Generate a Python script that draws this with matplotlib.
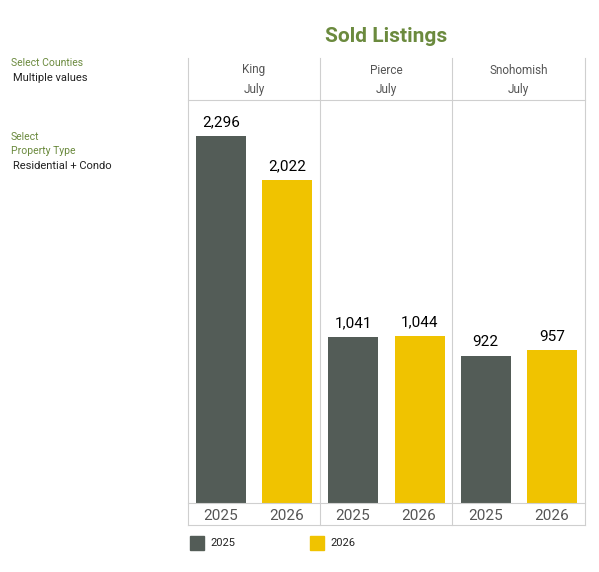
import matplotlib.pyplot as plt
from matplotlib.patches import Rectangle

plt.rcParams['font.family'] = ['Roboto', 'DejaVu Sans']

counties = ['King', 'Pierce', 'Snohomish']
month = 'July'
years = ['2025', '2026']
sold_2025 = [2296, 1041, 922]
sold_2026 = [2022, 1044, 957]

c25 = '#535c57'
c26 = '#f0c300'
green = '#6b8a3e'
grid = '#cfcfcf'

W, H = 599, 572
fig = plt.figure(figsize=(W / 100, H / 100), dpi=100)

def fx(px):
    return px / W

def fy(py):
    return 1 - py / H

left, right, top, base = 188, 585, 100, 503
ax = fig.add_axes([fx(left), fy(base), fx(right) - fx(left), fy(top) - fy(base)])
ax.set_xlim(-0.5, len(counties) - 0.5)
ax.set_ylim(0, 2521)
ax.axis('off')

x = list(range(len(counties)))
w = 50 / 132
ax.bar([i - 0.25 for i in x], sold_2025, width=w, color=c25)
ax.bar([i + 0.25 for i in x], sold_2026, width=w, color=c26)
for i in x:
    ax.text(i - 0.25, sold_2025[i] + 40, f'{sold_2025[i]:,}', ha='center', va='bottom', fontsize=11)
    ax.text(i + 0.25, sold_2026[i] + 40, f'{sold_2026[i]:,}', ha='center', va='bottom', fontsize=11)

# grid lines
dividers = [188, 320, 452, 585]
for d in dividers:
    fig.add_artist(plt.Line2D([fx(d), fx(d)], [fy(58), fy(525)], color=grid, lw=0.8))
for yy in [100, 503, 525]:
    fig.add_artist(plt.Line2D([fx(188), fx(585)], [fy(yy), fy(yy)], color=grid, lw=0.8))

for i, c in enumerate(counties):
    cx = (dividers[i] + dividers[i + 1]) / 2
    fig.text(fx(cx), fy(70), c, ha='center', va='center', fontsize=8.5, color='#555555')
    fig.text(fx(cx), fy(90), month, ha='center', va='center', fontsize=8.5, color='#555555')
    fig.text(fx(cx - 33), fy(516), years[0], ha='center', va='center', fontsize=11, color='#555555')
    fig.text(fx(cx + 33), fy(516), years[1], ha='center', va='center', fontsize=11, color='#555555')

fig.text(fx(386), fy(37), 'Sold Listings', ha='center', va='center', fontsize=15,
         fontweight='bold', color=green)

fig.text(fx(11), fy(63), 'Select Counties', ha='left', va='center', fontsize=7.5, color=green)
fig.text(fx(13), fy(78), 'Multiple values', ha='left', va='center', fontsize=8, color='#222222')
fig.text(fx(11), fy(137), 'Select', ha='left', va='center', fontsize=7.5, color=green)
fig.text(fx(11), fy(151), 'Property Type', ha='left', va='center', fontsize=7.5, color=green)
fig.text(fx(13), fy(166), 'Residential + Condo', ha='left', va='center', fontsize=8, color='#222222')

# legend
for px, col, lab in [(190, c25, years[0]), (310, c26, years[1])]:
    fig.add_artist(Rectangle((fx(px), fy(550)), fx(14), 14 / H, color=col))
    fig.text(fx(px + 20), fy(543), lab, ha='left', va='center', fontsize=8, color='#222222')

fig.savefig('out.png', dpi=100)
